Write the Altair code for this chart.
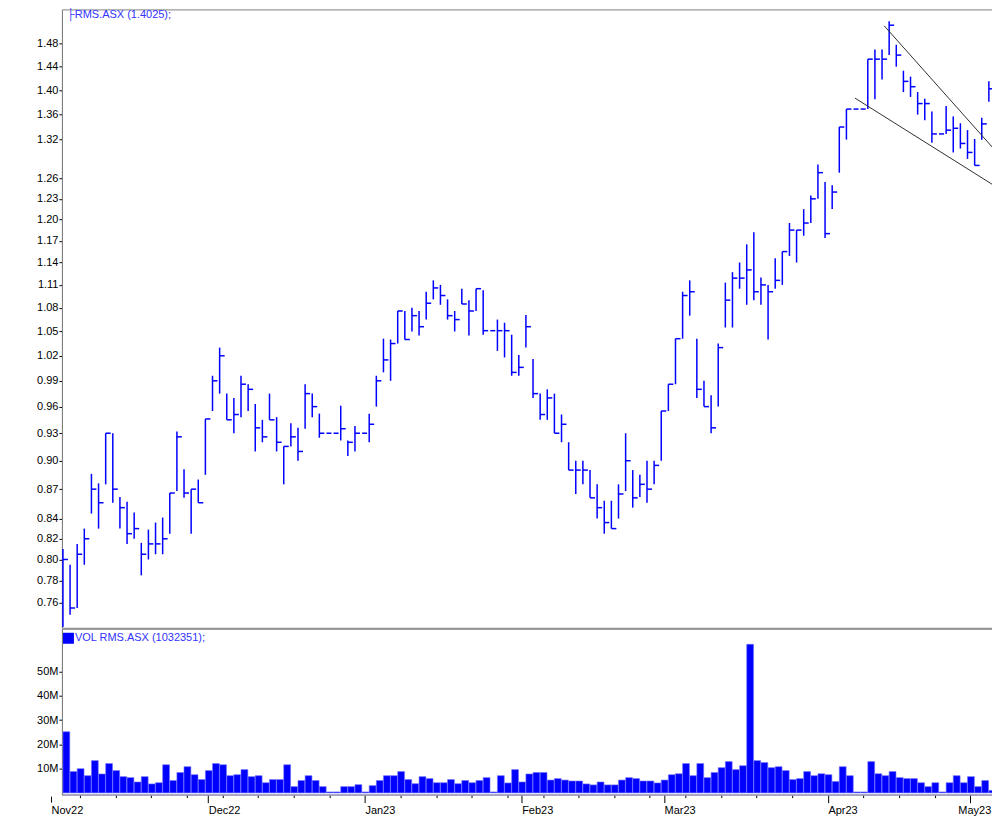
import altair as alt
import pandas as pd

# ---------------- data ----------------
highs = [0.81, 0.795, 0.815, 0.830, 0.886, 0.876, 0.93, 0.93, 0.862, 0.857,
         0.846, 0.816, 0.829, 0.836, 0.841, 0.866, 0.932, 0.891, 0.87, 0.88,
         0.946, 0.996, 1.030, 0.975, 0.97, 0.996, 0.986, 0.963, 0.945, 0.975,
         0.948, 0.9155, 0.941, 0.936, 0.986, 0.975, 0.952, 0.93, 0.93, 0.961,
         0.922, 0.938, 0.93, 0.952, 0.996, 1.041, 1.04, 1.076, 1.076, 1.08,
         1.076, 1.101, 1.116, 1.11, 1.091, 1.076, 1.105, 1.09, 1.105, 1.103,
         1.051, 1.065, 1.061, 1.046, 1.021, 1.071, 1.016, 0.975, 0.98, 0.975,
         0.951, 0.92, 0.90, 0.90, 0.89, 0.875, 0.858, 0.858, 0.875, 0.93,
         0.89, 0.885, 0.90, 0.90, 0.955, 0.986, 1.041, 1.101, 1.116, 1.041,
         0.99, 0.973, 1.035, 1.113, 1.127, 1.14, 1.165, 1.182, 1.12, 1.11,
         1.146, 1.155, 1.195, 1.185, 1.215, 1.235, 1.2815, 1.255, 1.25, 1.34,
         1.369, 1.369, 1.369, 1.453, 1.47, 1.47, 1.52, 1.478, 1.433, 1.423,
         1.397, 1.386, 1.365, 1.329, 1.374, 1.357, 1.346, 1.335, 1.321, 1.355,
         1.415]
lows = [0.738, 0.749, 0.755, 0.795, 0.845, 0.830, 0.875, 0.856, 0.830, 0.815,
        0.82, 0.785, 0.80, 0.805, 0.805, 0.825, 0.868, 0.861, 0.825, 0.856,
        0.885, 0.955, 0.975, 0.945, 0.93, 0.948, 0.955, 0.910, 0.92, 0.945,
        0.91, 0.875, 0.9155, 0.90, 0.935, 0.948, 0.925, 0.93, 0.93, 0.922,
        0.905, 0.91, 0.93, 0.92, 0.96, 1.0, 0.99, 1.035, 1.04, 1.05,
        1.045, 1.065, 1.091, 1.084, 1.065, 1.05, 1.085, 1.045, 1.076, 1.046,
        1.051, 1.026, 1.018, 0.996, 0.996, 1.03, 0.97, 0.945, 0.945, 0.93,
        0.92, 0.89, 0.865, 0.875, 0.861, 0.84, 0.825, 0.83, 0.84, 0.868,
        0.851, 0.862, 0.856, 0.875, 0.90, 0.955, 0.986, 1.041, 1.07, 0.97,
        0.96, 0.93, 0.96, 1.055, 1.055, 1.105, 1.084, 1.09, 1.084, 1.04,
        1.105, 1.11, 1.149, 1.14, 1.177, 1.195, 1.23, 1.174, 1.215, 1.269,
        1.32, 1.369, 1.369, 1.369, 1.385, 1.418, 1.46, 1.44, 1.397, 1.389,
        1.36, 1.351, 1.315, 1.329, 1.329, 1.30, 1.306, 1.29, 1.28, 1.32,
        1.381]
closes = [0.80, 0.755, 0.805, 0.82, 0.87, 0.856, 0.93, 0.87, 0.851, 0.825,
          0.830, 0.805, 0.815, 0.815, 0.82, 0.866, 0.926, 0.866, 0.87, 0.856,
          0.946, 0.99, 1.02, 0.945, 0.951, 0.986, 0.98, 0.936, 0.926, 0.945,
          0.92, 0.9155, 0.926, 0.91, 0.975, 0.96, 0.93, 0.93, 0.93, 0.935,
          0.92, 0.93, 0.93, 0.94, 0.99, 1.015, 1.035, 1.076, 1.04, 1.07,
          1.056, 1.086, 1.106, 1.096, 1.07, 1.065, 1.085, 1.076, 1.105, 1.051,
          1.051, 1.051, 1.051, 1.0, 1.006, 1.056, 0.975, 0.951, 0.97, 0.93,
          0.94, 0.89, 0.89, 0.89, 0.861, 0.851, 0.836, 0.83, 0.865, 0.90,
          0.861, 0.875, 0.87, 0.895, 0.955, 0.986, 1.041, 1.096, 1.101, 0.98,
          0.96, 0.936, 1.03, 1.09, 1.119, 1.119, 1.13, 1.101, 1.11, 1.101,
          1.116, 1.155, 1.185, 1.185, 1.195, 1.23, 1.269, 1.18, 1.24, 1.34,
          1.369, 1.369, 1.369, 1.453, 1.453, 1.453, 1.513, 1.46, 1.415, 1.406,
          1.378, 1.378, 1.329, 1.329, 1.335, 1.338, 1.314, 1.30, 1.28, 1.345,
          1.4025]
volumes_m = [25.2, 8.8, 10.0, 7.1, 13.3, 7.8, 12.1, 9.2, 6.7, 6.3,
             4.5, 6.7, 3.7, 4.2, 11.6, 5.1, 8.4, 10.8, 7.5, 5.5,
             9.2, 12.1, 11.6, 7.1, 7.5, 9.6, 6.7, 7.1, 4.2, 5.5,
             5.5, 11.6, 2.6, 5.1, 7.1, 5.1, 2.6, 0.4, 0.4, 2.6,
             2.6, 3.4, 0.4, 3.0, 5.1, 7.1, 7.1, 8.8, 5.5, 3.8,
             6.7, 5.9, 4.2, 4.2, 5.5, 3.8, 5.1, 4.2, 5.1, 6.3,
             0.4, 7.1, 4.1, 9.6, 4.5, 7.8, 8.4, 8.4, 5.3, 5.9,
             5.3, 4.9, 4.9, 3.7, 3.3, 4.5, 3.3, 3.3, 5.3, 6.3,
             5.9, 4.9, 4.9, 4.1, 5.3, 7.5, 7.9, 12.1, 7.1, 12.1,
             6.3, 8.4, 10.4, 12.9, 9.6, 11.2, 61.2, 13.3, 12.5, 10.4,
             10.8, 9.2, 5.5, 5.9, 8.8, 7.1, 7.9, 7.5, 4.7, 10.8,
             7.1, 0.4, 0.4, 12.9, 7.9, 7.1, 8.8, 6.3, 5.9, 5.9,
             4.2, 2.6, 4.2, 0.4, 4.2, 7.1, 4.2, 6.7, 2.6, 5.1,
             1.032351]

month_labels = ["Nov22", "Dec22", "Jan23", "Feb23", "Mar23", "Apr23", "May23"]
month_start_idx = [-2, 20, 42, 64, 84, 107, 127]   # trading-day index of 1st of month
monday_idx = list(range(2, 131, 5))                  # weekly (Monday) ticks

price_ticks = [0.76, 0.78, 0.80, 0.82, 0.84, 0.87, 0.90, 0.93, 0.96, 0.99,
               1.02, 1.05, 1.08, 1.11, 1.14, 1.17, 1.20, 1.23, 1.26, 1.32,
               1.36, 1.40, 1.44, 1.48]
vol_ticks = [10e6, 20e6, 30e6, 40e6, 50e6]

trend_line = ["upper", "upper", "lower", "lower"]
trend_idx = [115.3, 131.14, 111.2, 131.14]
trend_price = [1.512, 1.300, 1.387, 1.247]

price_legend = "├RMS.ASX (1.4025);"
vol_legend = "VOL RMS.ASX (1032351);"

# ---------------- tables ----------------
n = len(closes)
df = pd.DataFrame({"i": list(range(n)), "high": highs, "low": lows,
                   "close": closes, "vol": [v * 1e6 for v in volumes_m]})
trend_df = pd.DataFrame({"line": trend_line, "i": trend_idx, "price": trend_price})

FONT = "Liberation Sans"
BLUE = "#0000ff"
TXT_BLUE = "#3333ff"
GRAY = "#808080"
VOL_H = 166

x_scale = alt.Scale(domain=[-0.14, 131.14], nice=False, zero=False)
y_scale = alt.Scale(type="log", domain=[0.7374, 1.5418], nice=False)
v_scale = alt.Scale(domain=[-0.7e6, 67.6e6], nice=False, zero=False)

major_vals = [m + 0.4 for m in month_start_idx]
minor_vals = [m + 0.4 for m in monday_idx if m not in month_start_idx]
in_axis = [(v, lab) for v, lab in zip(major_vals, month_labels) if v > -0.14]
all_vals = sorted([v for v, _ in in_axis] + minor_vals)
# labels drawn as text marks: the first (left of the plotted range) and the last (at the edge)
manual = [(major_vals[0], month_labels[0], 0), (major_vals[-1], month_labels[-1], -12)]
axis_labels = in_axis[:-1]

label_expr = "''"
for v, lab in reversed(axis_labels):
    label_expr = f"abs(datum.value - ({v:.2f})) < 0.01 ? '{lab}' : ({label_expr})"
major_test = " || ".join(f"abs(datum.value - ({v:.2f})) < 0.01" for v, _ in in_axis)

y_axis_common = dict(title=None, grid=False, tickSize=3, tickColor="black",
                     domainColor=GRAY, labelColor="black", labelFont=FONT,
                     labelFontSize=11, labelPadding=1, minExtent=53, maxExtent=53)

vol_x_axis = alt.Axis(values=all_vals, labelExpr=label_expr, title=None, grid=False,
                      tickSize={"condition": {"test": major_test, "value": 8}, "value": 3},
                      tickColor="black", domainColor="#a0a0c0", domainWidth=1.5,
                      labelAlign="left", labelColor="black", labelFont=FONT,
                      labelFontSize=11, labelPadding=2, labelOverlap=False,
                      labelFlush=False, labelBound=False)

# ---------------- price panel ----------------
base = alt.Chart(df)
hl = base.mark_rule(color=BLUE, strokeWidth=1.5).encode(
    x=alt.X("i:Q", scale=x_scale, axis=None),
    y=alt.Y("low:Q", scale=y_scale,
            axis=alt.Axis(values=price_ticks, format=".2f", **y_axis_common)),
    y2="high:Q",
)
close_tick = base.transform_calculate(i2="datum.i + 0.7").mark_rule(
    color=BLUE, strokeWidth=1.5).encode(
    x=alt.X("i:Q", scale=x_scale, axis=None),
    x2="i2:Q",
    y=alt.Y("close:Q", scale=y_scale),
)
trend = alt.Chart(trend_df).mark_line(color="#303030", strokeWidth=1, clip=True).encode(
    x=alt.X("i:Q", scale=x_scale, axis=None),
    y=alt.Y("price:Q", scale=y_scale),
    detail="line:N",
)
p_leg = alt.Chart(pd.DataFrame({"t": [price_legend]})).mark_text(
    align="left", baseline="middle", font=FONT, fontSize=11, color=TXT_BLUE
).encode(x=alt.value(5), y=alt.value(5.5), text="t:N")

price = alt.layer(hl, close_tick, trend, p_leg).properties(width=936, height=619)

# ---------------- volume panel ----------------
vbars = alt.Chart(df).transform_calculate(i2="datum.i + 0.96").mark_rect(
    color=BLUE, stroke="#7070ff", strokeWidth=0.6).encode(
    x=alt.X("i:Q", scale=x_scale, axis=vol_x_axis),
    x2="i2:Q",
    y=alt.Y("vol:Q", scale=v_scale,
            axis=alt.Axis(values=vol_ticks, labelExpr="(datum.value / 1000000) + 'M'",
                          **y_axis_common)),
    y2=alt.datum(0),
)
man_df = pd.DataFrame({"i": [m[0] for m in manual], "lab": [m[1] for m in manual],
                       "shift": [m[2] for m in manual]})
out_tick = alt.Chart(man_df.iloc[:1]).mark_rule(color="black", strokeWidth=1).encode(
    x=alt.X("i:Q", scale=x_scale, axis=vol_x_axis),
    y=alt.value(VOL_H + 2), y2=alt.value(VOL_H + 8))
man_text = alt.Chart(man_df).transform_calculate(ix="datum.i + datum.shift / 7.13").mark_text(
    align="left", baseline="top", font=FONT, fontSize=11, color="black").encode(
    x=alt.X("ix:Q", scale=x_scale, axis=vol_x_axis), y=alt.value(VOL_H + 10.5), text="lab:N")

v_sq = alt.Chart(pd.DataFrame({"t": [vol_legend]})).mark_rect(color=BLUE).encode(
    x=alt.value(1), x2=alt.value(12), y=alt.value(4), y2=alt.value(15))
v_leg = alt.Chart(pd.DataFrame({"t": [vol_legend]})).mark_text(
    align="left", baseline="middle", font=FONT, fontSize=11, color=TXT_BLUE
).encode(x=alt.value(13), y=alt.value(9.5), text="t:N")

volume = alt.layer(vbars, out_tick, man_text, v_sq, v_leg).properties(width=936, height=VOL_H)

chart = alt.vconcat(price, volume, spacing=-2).properties(
    padding={"left": 0, "top": 0, "right": -6, "bottom": 0},
    background="white",
).configure_view(stroke=GRAY, strokeWidth=1)

chart.save("out.html", embed_options={"renderer": "svg", "actions": False})
